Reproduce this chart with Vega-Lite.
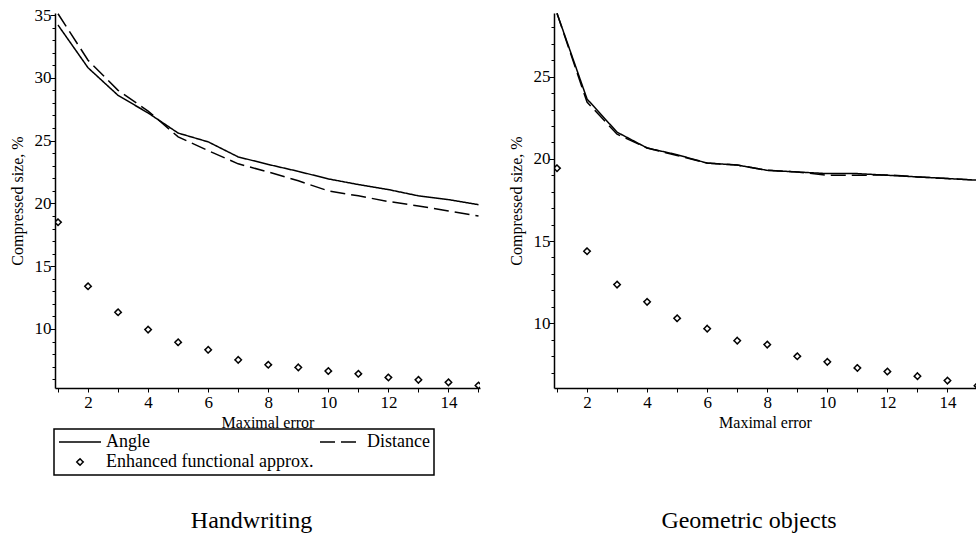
{
  "$schema": "https://vega.github.io/schema/vega-lite/v6.json",
  "padding": {"left": 9, "top": 6, "right": 0, "bottom": 0},
  "background": "white",
  "datasets": {
    "hand": [
      {"series": "Angle", "x": 1, "y": 34.2}, {"series": "Angle", "x": 2, "y": 30.8}, {"series": "Angle", "x": 3, "y": 28.6},
      {"series": "Angle", "x": 4, "y": 27.2}, {"series": "Angle", "x": 5, "y": 25.6}, {"series": "Angle", "x": 6, "y": 24.9},
      {"series": "Angle", "x": 7, "y": 23.7}, {"series": "Angle", "x": 8, "y": 23.1}, {"series": "Angle", "x": 9, "y": 22.55},
      {"series": "Angle", "x": 10, "y": 21.95}, {"series": "Angle", "x": 11, "y": 21.5}, {"series": "Angle", "x": 12, "y": 21.1},
      {"series": "Angle", "x": 13, "y": 20.6}, {"series": "Angle", "x": 14, "y": 20.3}, {"series": "Angle", "x": 15, "y": 19.9},
      {"series": "Distance", "x": 1, "y": 35.1}, {"series": "Distance", "x": 2, "y": 31.4}, {"series": "Distance", "x": 3, "y": 29.0},
      {"series": "Distance", "x": 4, "y": 27.35}, {"series": "Distance", "x": 5, "y": 25.3}, {"series": "Distance", "x": 6, "y": 24.2},
      {"series": "Distance", "x": 7, "y": 23.15}, {"series": "Distance", "x": 8, "y": 22.5}, {"series": "Distance", "x": 9, "y": 21.8},
      {"series": "Distance", "x": 10, "y": 21.0}, {"series": "Distance", "x": 11, "y": 20.6}, {"series": "Distance", "x": 12, "y": 20.15},
      {"series": "Distance", "x": 13, "y": 19.8}, {"series": "Distance", "x": 14, "y": 19.4}, {"series": "Distance", "x": 15, "y": 19.0},
      {"series": "Enhanced functional approx.", "x": 1, "y": 18.5}, {"series": "Enhanced functional approx.", "x": 2, "y": 13.4},
      {"series": "Enhanced functional approx.", "x": 3, "y": 11.33}, {"series": "Enhanced functional approx.", "x": 4, "y": 9.95},
      {"series": "Enhanced functional approx.", "x": 5, "y": 8.94}, {"series": "Enhanced functional approx.", "x": 6, "y": 8.34},
      {"series": "Enhanced functional approx.", "x": 7, "y": 7.54}, {"series": "Enhanced functional approx.", "x": 8, "y": 7.15},
      {"series": "Enhanced functional approx.", "x": 9, "y": 6.94}, {"series": "Enhanced functional approx.", "x": 10, "y": 6.65},
      {"series": "Enhanced functional approx.", "x": 11, "y": 6.43}, {"series": "Enhanced functional approx.", "x": 12, "y": 6.14},
      {"series": "Enhanced functional approx.", "x": 13, "y": 5.95}, {"series": "Enhanced functional approx.", "x": 14, "y": 5.75},
      {"series": "Enhanced functional approx.", "x": 15, "y": 5.5}
    ],
    "geo": [
      {"series": "Angle", "x": 1, "y": 28.85}, {"series": "Angle", "x": 2, "y": 23.64}, {"series": "Angle", "x": 3, "y": 21.62},
      {"series": "Angle", "x": 4, "y": 20.66}, {"series": "Angle", "x": 5, "y": 20.25}, {"series": "Angle", "x": 6, "y": 19.74},
      {"series": "Angle", "x": 7, "y": 19.62}, {"series": "Angle", "x": 8, "y": 19.3}, {"series": "Angle", "x": 9, "y": 19.2},
      {"series": "Angle", "x": 10, "y": 19.1}, {"series": "Angle", "x": 11, "y": 19.1}, {"series": "Angle", "x": 12, "y": 19.0},
      {"series": "Angle", "x": 13, "y": 18.9}, {"series": "Angle", "x": 14, "y": 18.8}, {"series": "Angle", "x": 15, "y": 18.7},
      {"series": "Distance", "x": 1, "y": 28.85}, {"series": "Distance", "x": 2, "y": 23.45}, {"series": "Distance", "x": 3, "y": 21.5},
      {"series": "Distance", "x": 4, "y": 20.66}, {"series": "Distance", "x": 5, "y": 20.2}, {"series": "Distance", "x": 6, "y": 19.74},
      {"series": "Distance", "x": 7, "y": 19.62}, {"series": "Distance", "x": 8, "y": 19.3}, {"series": "Distance", "x": 9, "y": 19.2},
      {"series": "Distance", "x": 10, "y": 19.0}, {"series": "Distance", "x": 11, "y": 19.0}, {"series": "Distance", "x": 12, "y": 19.02},
      {"series": "Distance", "x": 13, "y": 18.9}, {"series": "Distance", "x": 14, "y": 18.8}, {"series": "Distance", "x": 15, "y": 18.7},
      {"series": "Enhanced functional approx.", "x": 1, "y": 19.43}, {"series": "Enhanced functional approx.", "x": 2, "y": 14.38},
      {"series": "Enhanced functional approx.", "x": 3, "y": 12.35}, {"series": "Enhanced functional approx.", "x": 4, "y": 11.3},
      {"series": "Enhanced functional approx.", "x": 5, "y": 10.3}, {"series": "Enhanced functional approx.", "x": 6, "y": 9.67},
      {"series": "Enhanced functional approx.", "x": 7, "y": 8.94}, {"series": "Enhanced functional approx.", "x": 8, "y": 8.7},
      {"series": "Enhanced functional approx.", "x": 9, "y": 7.99}, {"series": "Enhanced functional approx.", "x": 10, "y": 7.65},
      {"series": "Enhanced functional approx.", "x": 11, "y": 7.28}, {"series": "Enhanced functional approx.", "x": 12, "y": 7.06},
      {"series": "Enhanced functional approx.", "x": 13, "y": 6.78}, {"series": "Enhanced functional approx.", "x": 14, "y": 6.51},
      {"series": "Enhanced functional approx.", "x": 15, "y": 6.2}
    ]
  },
  "bounds": "flush",
  "spacing": 74,
  "hconcat": [
    {
      "width": 425,
      "height": 375,
      "data": {"name": "hand"},
      "title": {"text": "Handwriting", "orient": "bottom", "dx": -16, "offset": 79},
      "layer": [
        {
          "transform": [{"filter": "datum.series != 'Enhanced functional approx.'"}],
          "mark": {"type": "line", "color": "black", "strokeWidth": 1.5, "clip": true},
          "encoding": {
            "x": {"field": "x", "type": "quantitative", "title": "Maximal error",
              "scale": {"domain": [0.9, 15.05], "nice": false, "zero": false},
              "axis": {"values": [1,2,3,4,5,6,7,8,9,10,11,12,13,14,15], "tickCount": 100, "format": "d", "tickSize": 4, "labelPadding": 2, "titlePadding": 4,
                "labelOverlap": false,
                "labelFontSize": {"condition": {"test": "datum.value % 2 !== 0", "value": 0}, "value": 17},
                "labelExpr": "datum.value % 2 === 0 ? datum.label : ''"}},
            "y": {"field": "y", "type": "quantitative", "title": "Compressed size, %",
              "scale": {"domain": [5.3, 35.16], "nice": false, "zero": false},
              "axis": {"values": [6,7,8,9,10,11,12,13,14,15,16,17,18,19,20,21,22,23,24,25,26,27,28,29,30,31,32,33,34,35],
                "tickCount": 100, "format": "d",
                "tickSize": {"condition": {"test": "datum.value % 5 === 0", "value": 5}, "value": 3},
                "labelPadding": -1, "titlePadding": 9, "labelOverlap": false,
                "labelFontSize": {"condition": {"test": "datum.value % 5 !== 0", "value": 0}, "value": 17},
                "labelExpr": "datum.value % 5 === 0 ? datum.label : ''"}},
            "strokeDash": {"field": "series", "type": "nominal",
              "scale": {"domain": ["Angle", "Enhanced functional approx.", "Distance"], "range": [[1, 0], [1, 0], [15, 6]]},
              "legend": {"orient": "none", "legendX": -1, "legendY": 416}}
          }
        },
        {
          "transform": [{"filter": "datum.series == 'Enhanced functional approx.'"}],
          "mark": {"type": "point", "filled": false, "color": "black", "strokeWidth": 1.5, "opacity": 1, "clip": true},
          "encoding": {
            "x": {"field": "x", "type": "quantitative"},
            "y": {"field": "y", "type": "quantitative"},
            "shape": {"field": "series", "type": "nominal",
              "scale": {"domain": ["Angle", "Enhanced functional approx.", "Distance"], "range": ["M-3,0H3", "diamond", "M-3,0H3"]},
              "legend": {"orient": "none", "legendX": -1, "legendY": 416}},
            "size": {"field": "series", "type": "nominal",
              "scale": {"type": "ordinal", "domain": ["Angle", "Enhanced functional approx.", "Distance"], "range": [196, 42, 196]},
              "legend": {"orient": "none", "legendX": -1, "legendY": 416}},
            "strokeDash": {"field": "series", "type": "nominal",
              "legend": {"orient": "none", "legendX": -1, "legendY": 416}}
          }
        }
      ]
    },
    {
      "width": 422,
      "height": 375,
      "data": {"name": "geo"},
      "title": {"text": "Geometric objects", "orient": "bottom", "dx": -16, "offset": 79},
      "layer": [
        {
          "transform": [{"filter": "datum.series != 'Enhanced functional approx.'"}],
          "mark": {"type": "line", "color": "black", "strokeWidth": 1.5, "clip": true},
          "encoding": {
            "x": {"field": "x", "type": "quantitative", "title": "Maximal error",
              "scale": {"domain": [0.9, 14.95], "nice": false, "zero": false},
              "axis": {"values": [1,2,3,4,5,6,7,8,9,10,11,12,13,14], "tickCount": 100, "format": "d", "tickSize": 4, "labelPadding": 2, "titlePadding": 4,
                "labelOverlap": false,
                "labelFontSize": {"condition": {"test": "datum.value % 2 !== 0", "value": 0}, "value": 17},
                "labelExpr": "datum.value % 2 === 0 ? datum.label : ''"}},
            "y": {"field": "y", "type": "quantitative", "title": "Compressed size, %",
              "scale": {"domain": [6.06, 28.87], "nice": false, "zero": false},
              "axis": {"values": [7,8,9,10,11,12,13,14,15,16,17,18,19,20,21,22,23,24,25,26,27,28],
                "tickCount": 100, "format": "d",
                "tickSize": {"condition": {"test": "datum.value % 5 === 0", "value": 5}, "value": 3},
                "labelPadding": -1, "titlePadding": 9, "labelOverlap": false,
                "labelFontSize": {"condition": {"test": "datum.value % 5 !== 0", "value": 0}, "value": 17},
                "labelExpr": "datum.value % 5 === 0 ? datum.label : ''"}},
            "strokeDash": {"field": "series", "type": "nominal",
              "scale": {"domain": ["Angle", "Enhanced functional approx.", "Distance"], "range": [[1, 0], [1, 0], [15, 6]]},
              "legend": {"orient": "none", "legendX": -1, "legendY": 416}}
          }
        },
        {
          "transform": [{"filter": "datum.series == 'Enhanced functional approx.'"}],
          "mark": {"type": "point", "filled": false, "color": "black", "strokeWidth": 1.5, "opacity": 1, "clip": true},
          "encoding": {
            "x": {"field": "x", "type": "quantitative"},
            "y": {"field": "y", "type": "quantitative"},
            "shape": {"field": "series", "type": "nominal",
              "scale": {"domain": ["Angle", "Enhanced functional approx.", "Distance"], "range": ["M-3,0H3", "diamond", "M-3,0H3"]},
              "legend": {"orient": "none", "legendX": -1, "legendY": 416}},
            "size": {"field": "series", "type": "nominal",
              "scale": {"type": "ordinal", "domain": ["Angle", "Enhanced functional approx.", "Distance"], "range": [196, 42, 196]},
              "legend": {"orient": "none", "legendX": -1, "legendY": 416}},
            "strokeDash": {"field": "series", "type": "nominal",
              "legend": {"orient": "none", "legendX": -1, "legendY": 416}}
          }
        }
      ]
    }
  ],
  "config": {
    "font": "Liberation Serif",
    "view": {"stroke": null},
    "axis": {"domainColor": "black", "domainWidth": 1.5, "tickColor": "black", "tickWidth": 1,
      "labelColor": "black", "titleColor": "black", "labelFont": "Liberation Serif", "titleFont": "Liberation Serif",
      "labelFontSize": 17, "titleFontSize": 16, "titleFontWeight": "normal", "grid": false,
      "labelFlush": false, "labelOverlap": false},
    "legend": {"title": null, "columns": 2, "columnPadding": 3, "rowPadding": 2, "padding": 4,
      "strokeColor": "black", "strokeWidth": 1.5, "labelFont": "Liberation Serif", "labelFontSize": 18, "labelColor": "black",
      "symbolOffset": 13, "labelOffset": 17, "symbolStrokeWidth": 1.5, "symbolStrokeColor": "black",
      "symbolFillColor": "transparent", "labelLimit": 400},
    "title": {"font": "Liberation Serif", "fontSize": 24, "fontWeight": "normal", "color": "black"}
  }
}
